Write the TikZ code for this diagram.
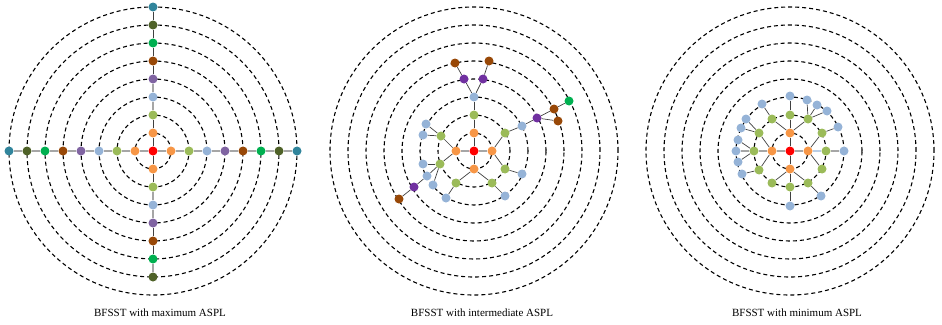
\documentclass[tikz,border=0pt]{standalone}
\usepackage{fontspec}
\setmainfont{Liberation Serif}
\usepackage{xcolor}
\usetikzlibrary{positioning}
\definecolor{lvzero}{RGB}{255,0,0}
\definecolor{lvone}{RGB}{247,150,70}
\definecolor{lvtwo}{RGB}{155,187,89}
\definecolor{lvthree}{RGB}{149,179,215}
\definecolor{lvfoura}{RGB}{128,100,162}
\definecolor{lvfourb}{RGB}{112,48,160}
\definecolor{lvfive}{RGB}{152,72,7}
\definecolor{lvsix}{RGB}{0,176,80}
\definecolor{lvseven}{RGB}{79,98,40}
\definecolor{lveight}{RGB}{49,133,156}
\definecolor{linkdark}{RGB}{64,64,64}
\definecolor{linkgray}{RGB}{166,166,166}
\definecolor{linkblue}{RGB}{185,205,229}
\pgfdeclarelayer{rings}
\pgfdeclarelayer{links}
\pgfsetlayers{rings,links,main}

\begin{document}
\begin{tikzpicture}[x=1pt,y=-1pt,
  ring/.style={draw=black,line width=1.1pt,dash pattern=on 4pt off 3pt},
  dot/.style={circle,inner sep=0pt,minimum size=9pt},
  dk/.style={draw=linkdark,line width=0.7pt},
  gy/.style={draw=linkgray,line width=1.5pt},
  lb/.style={draw=linkblue,line width=1.5pt},
  capt/.style={font=\fontsize{11}{13}\selectfont}
]
  \useasboundingbox (0,0) rectangle (942,324);
  % dashed level rings
  \begin{pgfonlayer}{rings}
    \foreach \cx in {153,474,790}
      \foreach \k in {1,...,8}
        \draw[ring] (\cx,151) circle[radius={18pt*\k}];
  \end{pgfonlayer}

  % maximum ASPL: four straight arms
  \node[dot,fill=lvzero] (ac) at (153,151) {};
  \foreach \k/\c in {1/lvone,2/lvtwo,3/lvthree,4/lvfoura,5/lvfive,6/lvsix,7/lvseven,8/lveight} {
    \node[dot,fill=\c] (at\k) at (153,151-18*\k) {};
    \node[dot,fill=\c] (al\k) at (153-18*\k,151) {};
    \node[dot,fill=\c] (ar\k) at (153+18*\k,151) {};
  }
  \foreach \k/\c in {1/lvone,2/lvtwo,3/lvthree,4/lvfoura,5/lvfive,6/lvsix,7/lvseven}
    \node[dot,fill=\c] (ab\k) at (153,151+18*\k) {};
  \begin{pgfonlayer}{links}
    \draw[gy] (ac) -- (al1);
    \draw[gy] (ac) -- (ar1);
    \draw[dk] (ac) -- (at1);
    \draw[dk] (ac) -- (ab1);
    \foreach \k in {2,...,8} {
      \pgfmathtruncatemacro\j{\k-1}
      \draw[gy] (al\j) -- (al\k);
      \draw[gy] (ar\j) -- (ar\k);
    }
    \foreach \k/\s in {2/dk,3/gy,4/gy,5/dk,6/dk,7/dk,8/dk} {
      \pgfmathtruncatemacro\j{\k-1}
      \draw[\s] (at\j) -- (at\k);
    }
    \foreach \k/\s in {2/dk,3/gy,4/gy,5/dk,6/dk,7/gy} {
      \pgfmathtruncatemacro\j{\k-1}
      \draw[\s] (ab\j) -- (ab\k);
    }
  \end{pgfonlayer}

  % intermediate ASPL
  \begin{scope}[shift={(474,151)}]
    \node[dot,fill=lvzero] (b0) at (0,0) {};
    \foreach \n/\p in {1/{(0,-18)},2/{(-18,0)},3/{(18,0)},4/{(0,18)}}
      \node[dot,fill=lvone] (bo\n) at \p {};
    \foreach \n/\p in {1/{(0,-36)},2/{(-33,-15)},3/{(31,-18)},4/{(-34,13)},5/{(31,18)},6/{(-18,32)},7/{(18,32)}}
      \node[dot,fill=lvtwo] (bg\n) at \p {};
    \foreach \n/\p in {1/{(0,-54)},2/{(-48,-27)},3/{(-51,-16)},4/{(-51,13)},5/{(-47,25)},6/{(-41,34)},7/{(-28,47)},8/{(48,-25)},9/{(48,23)},10/{(31,45)}}
      \node[dot,fill=lvthree] (bb\n) at \p {};
    \foreach \n/\p in {1/{(-10,-72)},2/{(9,-72)},3/{(63,-33)},4/{(-60,36)}}
      \node[dot,fill=lvfourb] (bp\n) at \p {};
    \foreach \n/\p in {1/{(-19,-88)},2/{(15,-90)},3/{(80,-42)},4/{(84,-30)},5/{(-75,48)}}
      \node[dot,fill=lvfive] (bn\n) at \p {};
    \node[dot,fill=lvsix] (bs1) at (95,-50) {};
  \end{scope}
  \begin{pgfonlayer}{links}
    \draw[dk] (b0) -- (bo1);
    \draw[gy] (b0) -- (bo2);
    \draw[gy] (b0) -- (bo3);
    \draw[dk] (b0) -- (bo4);
    \foreach \a/\b in {bo1/bg1,bg1/bb1,bb1/bp1,bb1/bp2,bp1/bn1,bp2/bn2,
        bo2/bg2,bg2/bb2,bg2/bb3,bo2/bg4,bg4/bb4,bg4/bb5,bg4/bb6,bb5/bp4,bp4/bn5,
        bo3/bg3,bg3/bb8,bb8/bp3,bp3/bn3,bn3/bs1,bp3/bn4,bo3/bg5,bg5/bb9,
        bo4/bg6,bg6/bb7,bo4/bg7,bg7/bb10}
      \draw[dk] (\a) -- (\b);
  \end{pgfonlayer}

  % minimum ASPL
  \begin{scope}[shift={(790,151)}]
    \node[dot,fill=lvzero] (c0) at (0,0) {};
    \foreach \n/\p in {1/{(0,-18)},2/{(-18,0)},3/{(18,0)},4/{(0,18)}}
      \node[dot,fill=lvone] (co\n) at \p {};
    \foreach \n/\p in {1/{(0,-36)},2/{(-18,-32)},3/{(18,-32)},4/{(-31,-18)},5/{(32,-18)},6/{(-36,0)},7/{(36,0)},8/{(-31,19)},9/{(32,18)},10/{(-18,32)},11/{(0,36)},12/{(18,32)}}
      \node[dot,fill=lvtwo] (cg\n) at \p {};
    \foreach \n/\p in {1/{(0,-55)},2/{(-28,-47)},3/{(17,-51)},4/{(27,-46)},5/{(37,-40)},6/{(-44,-32)},7/{(-49,-23)},8/{(48,-24)},9/{(-52,-11)},10/{(-54,0)},11/{(54,0)},12/{(-52,11)},13/{(-48,23)},14/{(31,45)},15/{(0,55)}}
      \node[dot,fill=lvthree] (cb\n) at \p {};
  \end{scope}
  \begin{pgfonlayer}{links}
    \draw[dk] (c0) -- (co1);
    \draw[gy] (c0) -- (co2);
    \draw[gy] (c0) -- (co3);
    \draw[dk] (c0) -- (co4);
    \draw[gy] (co2) -- (cg6);
    \draw[lb] (co3) -- (cg7);
    \draw[gy] (cg6) -- (cb10);
    \draw[gy] (cg7) -- (cb11);
    \foreach \a/\b in {co1/cg1,co1/cg2,co1/cg3,co2/cg4,co2/cg8,co3/cg5,co3/cg9,
        co4/cg10,co4/cg11,co4/cg12,cg1/cb1,cg2/cb2,cg3/cb3,cg3/cb4,cg3/cb5,
        cg4/cb6,cg4/cb7,cg5/cb8,cg6/cb9,cg6/cb12,cg8/cb13,cg12/cb14,cg11/cb15}
      \draw[dk] (\a) -- (\b);
  \end{pgfonlayer}

  % captions
  \node[capt] (capmax) at (160,313) {BFSST with maximum ASPL};
  \node[capt] (capmid) at (482,313) {BFSST with intermediate ASPL};
  \node[capt] (capmin) at (797,313) {BFSST with minimum ASPL};
\end{tikzpicture}
\end{document}
